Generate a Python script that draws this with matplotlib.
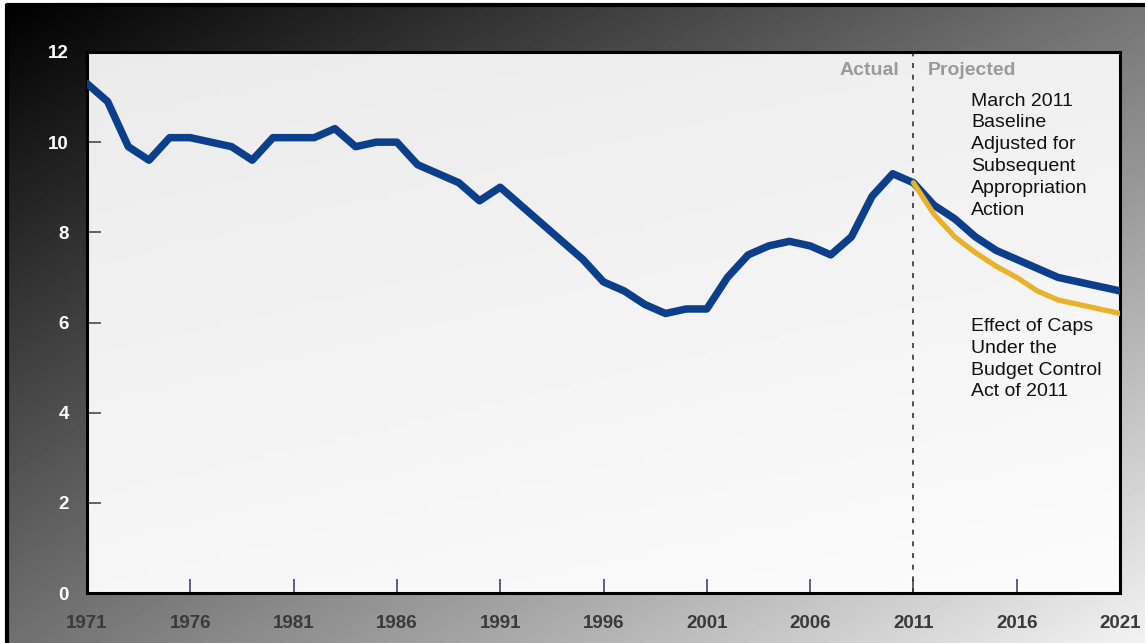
import numpy as np
import matplotlib
matplotlib.use("Agg")
import matplotlib.pyplot as plt

plt.rcParams["font.family"] = ["Liberation Sans", "DejaVu Sans"]

years_actual = list(range(1971, 2012))
baseline_actual = [
    11.3, 10.9, 9.9, 9.6, 10.1, 10.1, 10.0, 9.9, 9.6, 10.1,
    10.1, 10.1, 10.3, 9.9, 10.0, 10.0, 9.5, 9.3, 9.1, 8.7,
    9.0, 8.6, 8.2, 7.8, 7.4, 6.9, 6.7, 6.4, 6.2, 6.3,
    6.3, 7.0, 7.5, 7.7, 7.8, 7.7, 7.5, 7.9, 8.8, 9.3,
    9.1,
]
years_proj = list(range(2011, 2022))
baseline_proj = [9.1, 8.6, 8.3, 7.9, 7.6, 7.4, 7.2, 7.0, 6.9, 6.8, 6.7]
caps_proj = [9.1, 8.4, 7.9, 7.55, 7.25, 7.0, 6.7, 6.5, 6.4, 6.3, 6.2]

x_ticks = [1971, 1976, 1981, 1986, 1991, 1996, 2001, 2006, 2011, 2016, 2021]
y_ticks = [0, 2, 4, 6, 8, 10, 12]

BLUE = "#0b3f8c"
GOLD = "#e8b32a"


def main() -> None:
    fig = plt.figure(figsize=(11.45, 6.43), dpi=100, facecolor="white")

    # dark-to-light gradient behind everything
    bg = fig.add_axes([7 / 1145, 0, 1 - 7 / 1145, 1 - 5 / 643], zorder=-5)
    h, w = 200, 360
    u = np.linspace(0, 1, w)[None, :]
    v = np.linspace(0, 1, h)[:, None]
    tl, tr, bl, br = 0.0, 0.46, 0.44, 0.95
    grad = (tl * (1 - u) * (1 - v) + tr * u * (1 - v)
            + bl * (1 - u) * v + br * u * v)
    bg.imshow(grad, cmap="gray", vmin=0, vmax=1, aspect="auto",
              extent=[0, 1, 0, 1], origin="upper")
    bg.set_xlim(0, 1)
    bg.set_ylim(0, 1)
    bg.axis("off")
    bg.plot([0, 0, 1], [0, 1, 1], color="black", lw=3, clip_on=False)

    ax = fig.add_axes([87 / 1145, 50 / 643, (1120 - 87) / 1145, (593 - 52) / 643])
    panel = np.linspace(0.92, 0.965, 100)[:, None] * np.ones((1, 100))
    panel = panel + np.linspace(0, 0.02, 100)[None, :]
    ax.imshow(panel, cmap="gray", vmin=0, vmax=1, aspect="auto",
              extent=[0, 1, 0, 1], transform=ax.transAxes, origin="upper",
              zorder=0)

    ax.plot(years_actual, baseline_actual, color=BLUE, lw=5.4,
            solid_joinstyle="round", solid_capstyle="round", zorder=3)
    ax.plot(years_proj, baseline_proj, color=BLUE, lw=5.4,
            solid_joinstyle="round", solid_capstyle="round", zorder=3)
    ax.plot(years_proj, caps_proj, color=GOLD, lw=3.8,
            solid_joinstyle="round", solid_capstyle="round", zorder=4)

    ax.axvline(2011, color="#333333", lw=1.2, ls=(0, (3, 4)), zorder=2)

    ax.set_xlim(1971, 2021)
    ax.set_ylim(0, 12)
    ax.set_xticks(x_ticks)
    ax.set_yticks(y_ticks)
    ax.tick_params(axis="x", direction="in", length=10, width=1.3,
                   color="#4a5870", pad=16, labelsize=13.5, labelcolor="#3a3a3a")
    ax.tick_params(axis="y", direction="in", length=10, width=1.3,
                   color="#4a5870", pad=13, labelsize=13.5, labelcolor="white")
    for lab in ax.get_xticklabels() + ax.get_yticklabels():
        lab.set_fontweight("bold")
    for sp in ax.spines.values():
        sp.set_color("black")
        sp.set_linewidth(2.2)

    ax.text(2010.3, 11.58, "Actual", ha="right", va="center", fontsize=14,
            fontweight="bold", color="#9a9a9a")
    ax.text(2011.7, 11.58, "Projected", ha="left", va="center", fontsize=14,
            fontweight="bold", color="#9a9a9a")
    ax.text(2013.8, 11.1,
            "March 2011\nBaseline\nAdjusted for\nSubsequent\nAppropriation\nAction",
            ha="left", va="top", fontsize=14, color="#111111", linespacing=1.37)
    ax.text(2013.8, 6.1,
            "Effect of Caps\nUnder the\nBudget Control\nAct of 2011",
            ha="left", va="top", fontsize=14, color="#111111", linespacing=1.37)

    fig.savefig("out.png", dpi=100, facecolor=fig.get_facecolor())


if __name__ == "__main__":
    main()
